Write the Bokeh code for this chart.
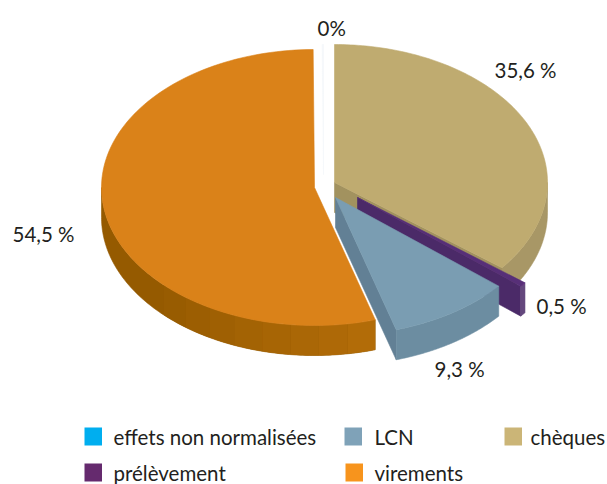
import numpy as np
from bokeh.plotting import figure
from bokeh.models import Range1d
from bokeh.core.properties import value
from bokeh.embed import file_html
from bokeh.resources import INLINE

categories = ["effets non normalisées", "LCN", "chèques", "prélèvement", "virements"]
cheques = 35.6
prelevement = 0.5
lcn = 9.3
virements = 54.5
effets = 0.1
labels = ["0%", "35,6 %", "0,5 %", "9,3 %", "54,5 %"]

FONT = value("Lato")
TEXT = "#231f20"
RX, RY, DEPTH = 213, 138, 30
CX, CY = 334, 182


def pts(t0, t1, ox, oy, n=120):
    t = np.radians(np.linspace(t0, t1, n))
    return CX + ox + RX * np.sin(t), CY + oy - RY * np.cos(t)


p = figure(width=607, height=484, output_backend="svg", toolbar_location=None,
           x_range=Range1d(0, 607), y_range=Range1d(484, 0), min_border=0,
           outline_line_color=None, x_axis_type=None, y_axis_type=None)
p.grid.visible = False
p.background_fill_color = "white"
p.border_fill_color = "white"


def poly(x, y, color, lw=0.6):
    p.patch(list(x), list(y), fill_color=color, line_color=color if lw else None, line_width=lw or 1)


def hex_(c):
    return "#%02x%02x%02x" % tuple(np.array(c).astype(int))


def wall(t0, t1, ox, oy, c0, c1, flat_at, steps):
    x, y = pts(t0, t1, ox, oy)
    poly(np.r_[x, x[::-1]], np.r_[y, y[::-1] + DEPTH], hex_(c1))
    c0, c1 = np.array(c0, float), np.array(c1, float)
    edges = np.linspace(t0, flat_at, steps + 1)
    for i in range(steps):
        a, b = edges[i], edges[i + 1]
        x, y = pts(a, b, ox, oy, 12)
        f = i / max(steps, 1)
        poly(np.r_[x, x[::-1]], np.r_[y, y[::-1] + DEPTH], hex_(c0 + (c1 - c0) * f), lw=0)


def slice_(t0, t1, ox, oy, top, face, wall_c0, wall_c1, flat_at, steps, face_at=None):
    vx, vy = CX + ox, CY + oy
    if face_at is not None:
        fx, fy = pts(face_at, face_at, ox, oy, 1)
        poly([vx, fx[0], fx[0], vx], [vy, fy[0], fy[0] + DEPTH, vy + DEPTH], face)
    wall(max(t0, 90), min(t1, 270), ox, oy, wall_c0, wall_c1, flat_at, steps)
    x, y = pts(t0, t1, ox, oy)
    poly(np.r_[vx, x], np.r_[vy, y], top)


# angles from the shares
a1 = cheques * 3.6
a2 = a1 + prelevement * 3.6
a3 = a2 + lcn * 3.6
a4 = a3 + virements * 3.6

slice_(0, a1, 0, 0, "#bfab70", "#a2925f", (168, 151, 102), (168, 151, 102), 128, 0, face_at=a1)
slice_(a1, a2, 23, 15, "#572f78", "#4b2a68", (100, 72, 125), (100, 72, 125), 130, 0, face_at=a2)
slice_(a2, a3, 1, 15, "#7a9db2", "#628095", (108, 141, 161), (108, 141, 161), 163, 0, face_at=a3)
slice_(a3, a4, -20, 5, "#da8219", "#a86500", (178, 108, 8), (149, 90, 0), 225, 8)
# vanishing slice
x, y = pts(a4, 360, -11, 0, 4)
poly(np.r_[323, x], np.r_[174, y], "#f4f7fa")

# data labels
lab_x = [317, 494, 536, 434, 12]
lab_y = [27, 69, 305, 368, 233]
p.text(lab_x, lab_y, text=labels, text_font=FONT, text_font_size="20.5px",
       text_color=TEXT, text_baseline="middle", text_align="left")

# legend
leg_colors = ["#00aeef", "#7fa2b8", "#cbb577", "#652a6e", "#f7941d"]
sq_x = [84, 344, 504, 84, 345]
sq_y = [427, 427, 427, 463, 463]
tx_x = [113, 374, 530, 113, 374]
for x, y, c in zip(sq_x, sq_y, leg_colors):
    p.quad(left=x, right=x + 17.5, top=y, bottom=y + 18, fill_color=c, line_color=None)
p.text(tx_x, [y + 9 for y in sq_y], text=categories, text_font=FONT, text_font_size="20.5px",
       text_color=TEXT, text_baseline="middle", text_align="left")

open("out.html", "w").write(file_html(p, INLINE))
